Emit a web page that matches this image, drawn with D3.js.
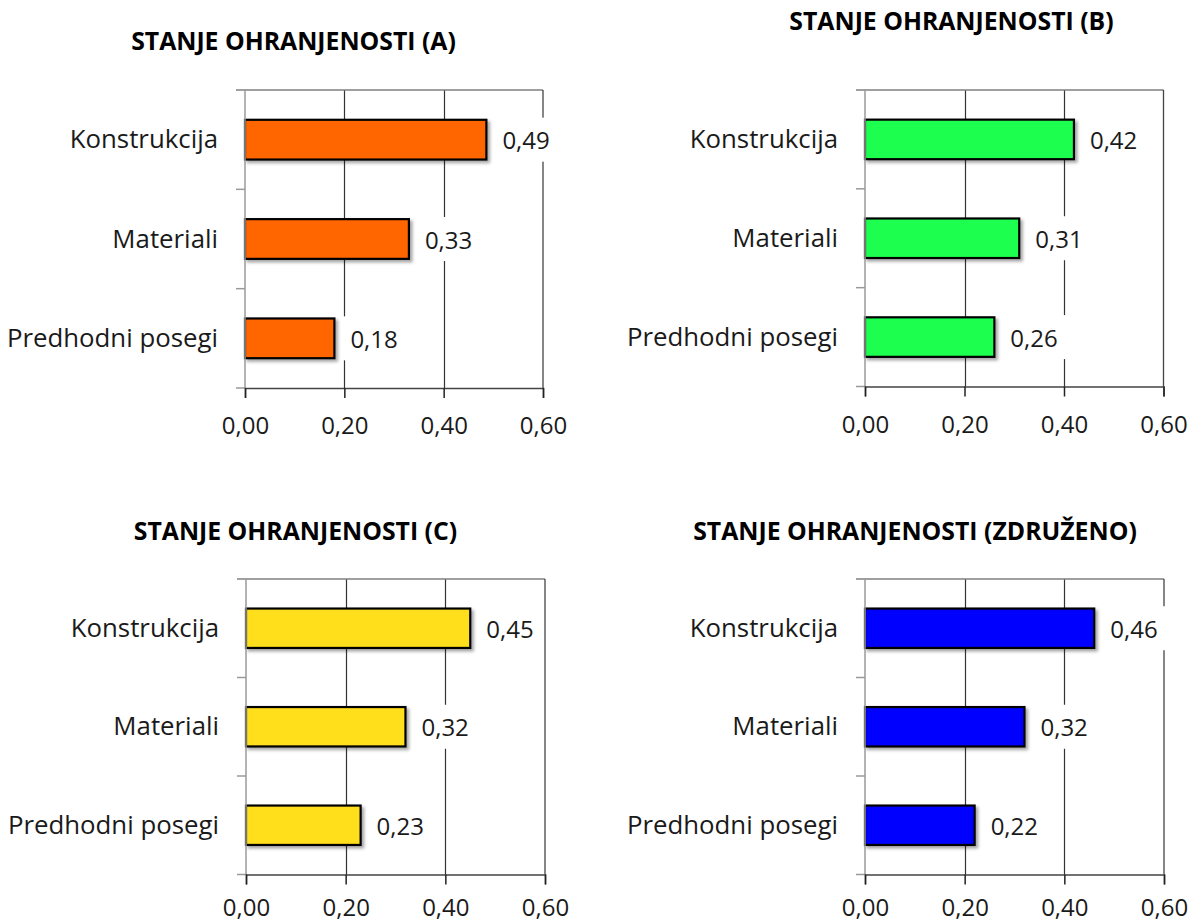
<!DOCTYPE html>
<html>
<head>
<meta charset="utf-8">
<script src="https://cdn.jsdelivr.net/npm/d3@7"></script>
<style>
  html, body { margin: 0; padding: 0; background: #ffffff; }
  svg { display: block; }
  text { font-family: "Open Sans", sans-serif; fill: #1a1a1a; }
</style>
</head>
<body>
<svg id="chart" width="1192" height="923"></svg>
<script>
// ---------------- data ----------------
const categories = ["Konstrukcija", "Materiali", "Predhodni posegi"];
const valuesA = [0.486, 0.33, 0.18];
const valuesB = [0.42, 0.31, 0.26];
const valuesC = [0.45, 0.32, 0.23];
const valuesD = [0.46, 0.32, 0.22];
const titles = ["STANJE OHRANJENOSTI (A)", "STANJE OHRANJENOSTI (B)", "STANJE OHRANJENOSTI (C)", "STANJE OHRANJENOSTI (ZDRUŽENO)"];
const xTicks = [0, 0.2, 0.4, 0.6];

// ---------------- layout ----------------
const panels = [
  { values: valuesA, title: titles[0], color: "#FF6600", x0: 245, x1: 543, top: 90, bottom: 388, tx: 293.5, ty: 50, pad: 19 },
  { values: valuesB, title: titles[1], color: "#1EFF50", x0: 865, x1: 1163.5, top: 90, bottom: 386.5, tx: 951.5, ty: 30, pad: 19 },
  { values: valuesC, title: titles[2], color: "#FFDE1C", x0: 246, x1: 545, top: 579, bottom: 874.5, tx: 295.5, ty: 540, pad: 14 },
  { values: valuesD, title: titles[3], color: "#0000FF", x0: 865, x1: 1164, top: 579, bottom: 874.5, tx: 915, ty: 540, pad: 14 }
];

const locale = d3.formatLocale({ decimal: ",", thousands: ".", grouping: [3], currency: ["", "€"] });
const fmt = locale.format(".2f");

const svg = d3.select("#chart");
const defs = svg.append("defs");
const filt = defs.append("filter").attr("id", "shadow").attr("x", "-10%").attr("y", "-20%").attr("width", "130%").attr("height", "160%");
filt.append("feDropShadow").attr("dx", 2.5).attr("dy", 2.5).attr("stdDeviation", 1.8).attr("flood-color", "#000").attr("flood-opacity", 0.35);

panels.forEach(p => {
  const g = svg.append("g");
  const x = d3.scaleLinear().domain([0, 0.6]).range([p.x0, p.x1]);
  const y = d3.scaleBand().domain(categories).range([p.top, p.bottom]).paddingInner(0.6).paddingOuter(0.3);
  const yb = d3.scaleBand().domain(categories).range([p.top, p.bottom]);

  // title
  g.append("text").attr("x", p.tx).attr("y", p.ty).attr("text-anchor", "middle")
    .style("font-weight", "700").style("font-size", "24.8px").style("fill", "#000").text(p.title);

  // gridlines (interior)
  g.selectAll(".grid").data(xTicks.filter(t => t > 0 && t < 0.6)).enter().append("line")
    .attr("x1", d => Math.round(x(d)) + 0.5).attr("x2", d => Math.round(x(d)) + 0.5)
    .attr("y1", p.top).attr("y2", p.bottom).attr("stroke", "#333").attr("stroke-width", 1.2);

  // top and right border
  g.append("line").attr("x1", p.x0).attr("x2", p.x1).attr("y1", p.top).attr("y2", p.top).attr("stroke", "#7f7f7f").attr("stroke-width", 1.5);
  g.append("line").attr("x1", p.x1).attr("x2", p.x1).attr("y1", p.top).attr("y2", p.bottom).attr("stroke", "#444").attr("stroke-width", 1.3);

  // bars
  g.selectAll(".bar").data(p.values).enter().append("rect")
    .attr("x", x(0))
    .attr("y", (d, i) => y(categories[i]))
    .attr("width", d => x(d) - x(0))
    .attr("height", y.bandwidth())
    .attr("fill", p.color).attr("stroke", "#000").attr("stroke-width", 2.2)
    .attr("filter", "url(#shadow)");

  // value labels with white background
  p.values.forEach((d, i) => {
    const cy = y(categories[i]) + y.bandwidth() / 2;
    const lg = g.append("g");
    const bg = lg.append("rect").attr("fill", "#fff");
    const t = lg.append("text").attr("x", x(d) + 16).attr("y", cy + 9.5)
      .style("font-size", "24px").text(fmt(d));
    const w = t.node().getComputedTextLength();
    bg.attr("x", x(d) + 7).attr("y", cy - 22).attr("width", w + 18).attr("height", 44);
  });

  // left axis
  const yAxis = d3.axisLeft(yb).tickSize(9).tickFormat("");
  const ya = g.append("g").attr("transform", `translate(${p.x0},0)`).call(yAxis);
  ya.select(".domain").attr("stroke", "#9a9a9a").attr("stroke-width", 1.5).attr("d", `M-9,${p.top}H0V${p.bottom}`);
  ya.selectAll(".tick").remove();
  [p.top, ...categories.slice(1).map(c => yb(c)), p.bottom].forEach(v => {
    ya.append("line").attr("x1", -9).attr("x2", 0).attr("y1", v).attr("y2", v).attr("stroke", "#9a9a9a").attr("stroke-width", 1.5);
  });

  // category labels
  g.selectAll(".cat").data(categories).enter().append("text")
    .attr("x", p.x0 - 27).attr("y", c => yb(c) + yb.bandwidth() / 2 + 8.5)
    .attr("text-anchor", "end").style("font-size", "25.8px").text(c => c);

  // bottom axis
  const xAxis = d3.axisBottom(x).tickValues(xTicks).tickSize(10).tickPadding(p.pad).tickFormat(fmt);
  const xa = g.append("g").attr("transform", `translate(0,${p.bottom})`).call(xAxis);
  xa.select(".domain").attr("stroke", "#444").attr("stroke-width", 1.5);
  xa.selectAll(".tick line").attr("stroke", "#222").attr("stroke-width", 1.5);
  xa.selectAll(".tick text").style("font-size", "24px").style("font-family", "'Open Sans', sans-serif").attr("fill", "#1a1a1a");
});
</script>
</body>
</html>
